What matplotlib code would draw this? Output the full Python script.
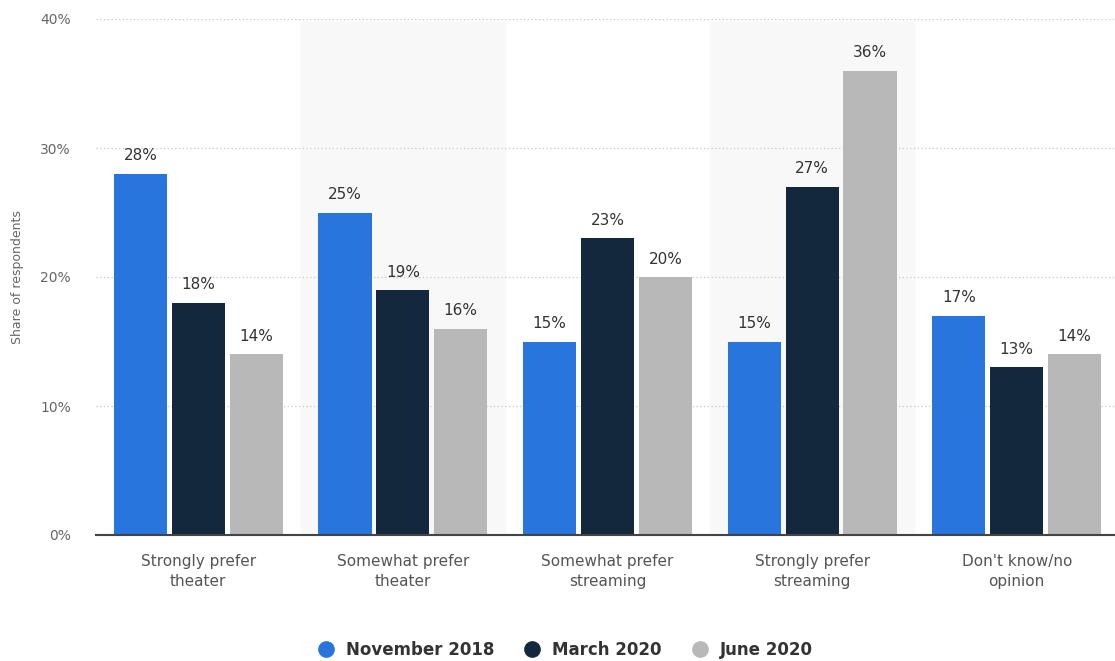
import numpy as np
import matplotlib
matplotlib.use("Agg")
import matplotlib.pyplot as plt

categories = ["Strongly prefer\ntheater", "Somewhat prefer\ntheater",
              "Somewhat prefer\nstreaming", "Strongly prefer\nstreaming",
              "Don't know/no\nopinion"]
series_names = ["November 2018", "March 2020", "June 2020"]
nov_2018 = [28, 25, 15, 15, 17]
mar_2020 = [18, 19, 23, 27, 13]
jun_2020 = [14, 16, 20, 36, 14]
y_ticks = [0, 10, 20, 30, 40]

colors = ["#2876dd", "#13273d", "#b8b8b8"]

fig = plt.figure(figsize=(11.15, 6.61), dpi=100)
ax = fig.add_axes([96 / 1115, 1 - 535 / 661, 1023 / 1115, 516 / 661])

x = np.arange(len(categories))
width = 0.26
step = 0.283

# alternating shaded bands
for i in x:
    if i % 2 == 1:
        ax.axvspan(i - 0.5, i + 0.5, ymin=0, ymax=0.995, color="#f8f8f8", zorder=0)

for k, (vals, name) in enumerate(zip([nov_2018, mar_2020, jun_2020], series_names)):
    pos = x + (k - 1) * step
    ax.bar(pos, vals, width=width, color=colors[k], label=name, zorder=2)
    for p, v in zip(pos, vals):
        ax.text(p, v + 0.8, f"{v}%", ha="center", va="bottom", fontsize=11,
                color="#333333", zorder=3)

ax.set_xlim(-0.5, 4.5)
ax.set_ylim(0, 40)
ax.set_yticks(y_ticks)
ax.set_yticklabels([f"{t}%" for t in y_ticks])
ax.set_xticks(x)
ax.set_xticklabels(categories, fontsize=11, color="#555555", linespacing=1.35)
ax.tick_params(axis="x", length=0, pad=14)
ax.tick_params(axis="y", length=0, pad=18, labelsize=10, labelcolor="#666666")
ax.yaxis.grid(True, linestyle=(0, (1, 2)), color="#c8c8c8", linewidth=0.9, zorder=1)
ax.set_axisbelow(True)

for side in ["top", "right", "left"]:
    ax.spines[side].set_visible(False)
ax.spines["bottom"].set_color("#444444")
ax.spines["bottom"].set_linewidth(1.5)
ax.spines["bottom"].set_zorder(4)

fig.text(18 / 1115, 1 - 277 / 661, "Share of respondents", rotation=90,
         ha="center", va="center", fontsize=9, color="#666666")

handles = [plt.Line2D([], [], marker="o", linestyle="", markersize=11,
                      color=c) for c in colors]
leg = fig.legend(handles, series_names, loc="center", ncol=3,
                 bbox_to_anchor=(561 / 1115, 1 - 650 / 661), frameon=False,
                 handletextpad=0.2, columnspacing=1.3,
                 prop={"weight": "bold", "size": 12})
for t in leg.get_texts():
    t.set_color("#333333")

fig.savefig("out.png", dpi=100)
